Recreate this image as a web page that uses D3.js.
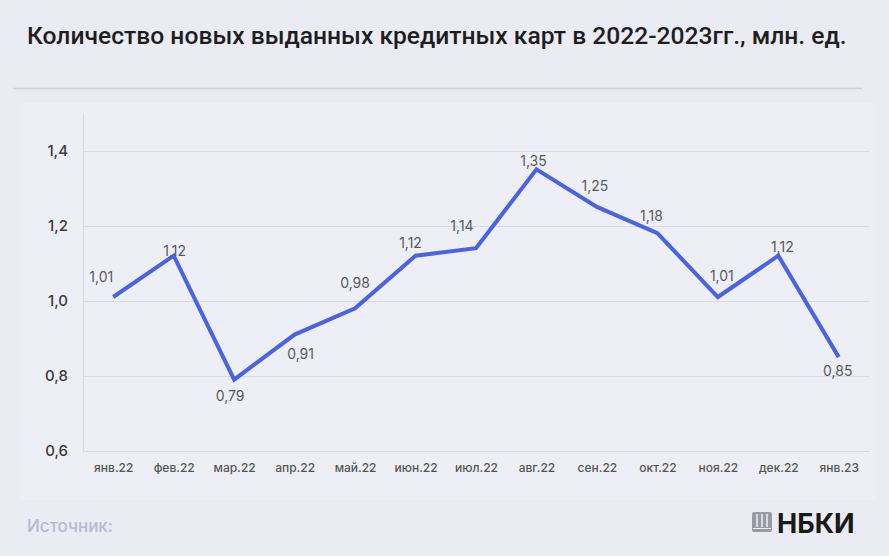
<!DOCTYPE html>
<html><head><meta charset="utf-8">
<script src="https://cdn.jsdelivr.net/npm/d3@7/dist/d3.min.js"></script>
<style>body{margin:0;background:#eaebf3;}svg{display:block;}</style>
</head><body>
<svg id="c" width="889" height="556"></svg>
<script>
const categories = ["янв.22","фев.22","мар.22","апр.22","май.22","июн.22","июл.22","авг.22","сен.22","окт.22","ноя.22","дек.22","янв.23"];
const values = [1.01,1.12,0.79,0.91,0.98,1.12,1.14,1.35,1.25,1.18,1.01,1.12,0.85];
const yTicks = [0.6,0.8,1.0,1.2,1.4];
// label placement: [dx, dy] relative to point
const labelOffsets = [[-12,-15],[1,0],[-4,21],[6,24],[0,-20],[-5,-8],[-14,-17],[-3,-3],[-2,-16],[-6,-12],[4,-16],[4,-4],[-1,19]];

const svg = d3.select("#c");
svg.append("rect").attr("width",889).attr("height",556).attr("fill","#eaebf3");
svg.append("rect").attr("x",20).attr("y",103).attr("width",856).attr("height",397).attr("fill","#eeeff6");

const title = svg.append("text").attr("x",27).attr("y",44).attr("font-family","Roboto").attr("font-weight",500)
  .attr("font-size",24).attr("fill","#1e1e1e")
  .text("Количество новых выданных кредитных карт в 2022-2023гг., млн. ед.");
const tw = title.node().getComputedTextLength();
title.attr("font-size", Math.min(26, 24*820/tw));
svg.append("line").attr("x1",13).attr("x2",862).attr("y1",88.5).attr("y2",88.5).attr("stroke","#cfd1dc").attr("stroke-width",1.5);

const x = d3.scalePoint().domain(categories).range([83,869]).padding(0.5);
const y = d3.scaleLinear().domain([0.6,1.5]).range([451,113]);

// gridlines
svg.append("g").selectAll("line").data(yTicks).join("line")
  .attr("x1",83).attr("x2",869).attr("y1",d=>Math.round(y(d))+0.5).attr("y2",d=>Math.round(y(d))+0.5)
  .attr("stroke","#d6d9e6").attr("stroke-width",1);
svg.append("line").attr("x1",83.5).attr("x2",83.5).attr("y1",113).attr("y2",451).attr("stroke","#d6d9e6");

// y axis labels
const yAxis = d3.axisLeft(y).tickValues(yTicks).tickSize(0).tickPadding(15)
  .tickFormat(d=>d3.format(".1f")(d).replace(".",","));
const gy = svg.append("g").attr("transform","translate(83,0)").call(yAxis);
gy.select(".domain").remove();
gy.selectAll("text").attr("font-family","Inter").attr("font-size",15).attr("font-weight",500).attr("fill","#3a3a3a");

// x axis labels
const xAxis = d3.axisBottom(x).tickSize(0).tickPadding(12);
const gx = svg.append("g").attr("transform","translate(0,451)").call(xAxis);
gx.select(".domain").remove();
gx.selectAll("text").attr("font-family","Inter").attr("font-size",12).attr("font-weight",500).attr("fill","#555");

// line
const line = d3.line().x((d,i)=>x(categories[i])).y(d=>y(d));
svg.append("path").datum(values).attr("d",line).attr("fill","none")
  .attr("stroke","#4a63e2").attr("stroke-width",4).attr("stroke-linejoin","miter");

// value labels
svg.append("g").selectAll("text").data(values).join("text")
  .attr("x",(d,i)=>x(categories[i])+labelOffsets[i][0])
  .attr("y",(d,i)=>y(d)+labelOffsets[i][1])
  .attr("text-anchor","middle").attr("font-family","Inter").attr("font-size",14).attr("fill","#5a5a5e")
  .text(d=>d3.format(".2f")(d).replace(".",","));

// footer
svg.append("text").attr("x",27).attr("y",532).attr("font-family","Inter").attr("font-weight",500)
  .attr("font-size",17).attr("fill","#b8b9d0").text("Источник:");
const logo = svg.append("g").attr("transform","translate(752,512)");
logo.append("rect").attr("x",0).attr("y",0).attr("width",20).attr("height",20).attr("rx",2).attr("fill","#9a9aa2");
[5,10,15].forEach(px=>logo.append("line").attr("x1",px).attr("x2",px).attr("y1",2).attr("y2",15).attr("stroke","#eeeff6").attr("stroke-width",1.5));
logo.append("line").attr("x1",1).attr("x2",19).attr("y1",16.5).attr("y2",16.5).attr("stroke","#eeeff6").attr("stroke-width",1);
svg.append("text").attr("x",777).attr("y",533).attr("font-family","Inter").attr("font-weight",700)
  .attr("font-size",27).attr("fill","#1a1a1a").text("НБКИ");
</script>
</body></html>
